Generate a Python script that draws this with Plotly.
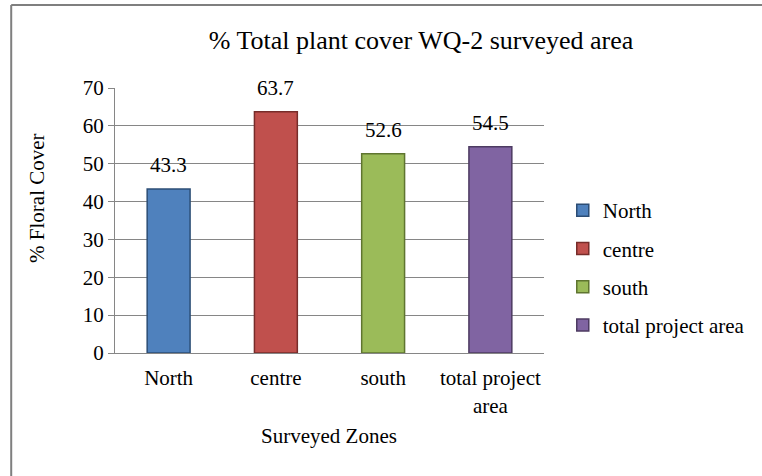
import plotly.graph_objects as go

categories = ["North", "centre", "south", "total project area"]
tick_labels = ["North", "centre", "south", "total project<br>area"]
values = [43.3, 63.7, 52.6, 54.5]
label_text = ["43.3", "63.7", "52.6", "54.5"]
colors = ["#4F81BD", "#C0504D", "#9BBB59", "#8064A2"]
edge_colors = ["#2C4D75", "#772C2A", "#5F7530", "#4D3B62"]

FONT = "Liberation Serif"

W, H = 762, 476
L, R, T, B = 115, 213, 88, 123
pw = W - L - R
ph = H - T - B

fig = go.Figure()
for i, cat in enumerate(categories):
    fig.add_trace(go.Bar(
        x=[cat], y=[values[i]], name=cat, width=0.4,
        marker=dict(color=colors[i], line=dict(color=edge_colors[i], width=1.5)),
        legendgroup=cat,
    ))
    fig.add_annotation(x=cat, y=values[i], text=label_text[i], showarrow=False,
                       xanchor="center", yanchor="middle",
                       yshift=24, font=dict(family=FONT, size=21, color="#000"))


def px_x(x):
    return (x - L) / pw


def px_y(y):
    return (H - B - y) / ph


fig.update_layout(
    width=W, height=H,
    margin=dict(l=L, r=R, t=T, b=B),
    paper_bgcolor="white", plot_bgcolor="white",
    font=dict(family=FONT, size=21, color="#000"),
    barmode="overlay",
    title=dict(text="% Total plant cover WQ-2 surveyed area", x=421 / W, xanchor="center",
               y=1 - 40 / H, yanchor="middle", yref="container",
               font=dict(family=FONT, size=26, color="#000")),
    showlegend=True,
    legend=dict(x=px_x(568), y=px_y(190), xanchor="left", yanchor="top",
                traceorder="grouped", tracegroupgap=8,
                font=dict(family=FONT, size=21, color="#000"),
                bgcolor="rgba(0,0,0,0)"),
    xaxis=dict(categoryorder="array", categoryarray=categories,
               tickmode="array", tickvals=categories, ticktext=tick_labels,
               showline=True, linecolor="#868686", linewidth=1,
               ticks="", showgrid=False, ticklabelstandoff=6,
               tickfont=dict(family=FONT, size=21, color="#000")),
    yaxis=dict(range=[0, 70], dtick=10, showline=True, linecolor="#868686", linewidth=1,
               ticks="outside", ticklen=6, tickcolor="#868686",
               showgrid=True, gridcolor="#868686", gridwidth=1, zeroline=False,
               tickfont=dict(family=FONT, size=21, color="#000")),
)

fig.add_annotation(x=px_x(36), y=px_y(198), xref="paper", yref="paper",
                   xanchor="center", yanchor="middle",
                   text="% Floral Cover", textangle=-90, showarrow=False,
                   font=dict(family=FONT, size=21, color="#000"))
fig.add_annotation(x=px_x(331), y=px_y(436), xref="paper", yref="paper",
                   xanchor="center", yanchor="middle",
                   text="Surveyed Zones", showarrow=False,
                   font=dict(family=FONT, size=21, color="#000"))

# chart frame (top and left edges visible)
fig.add_shape(type="line", xref="paper", yref="paper",
              x0=px_x(10), x1=px_x(775), y0=px_y(5), y1=px_y(5),
              line=dict(color="#7F7F7F", width=2))
fig.add_shape(type="line", xref="paper", yref="paper",
              x0=px_x(10), x1=px_x(10), y0=px_y(5), y1=px_y(490),
              line=dict(color="#7F7F7F", width=2))

fig.write_html("out.html", config={"displayModeBar": False},
               post_script="document.body.style.margin='0';document.body.style.padding='0';")
